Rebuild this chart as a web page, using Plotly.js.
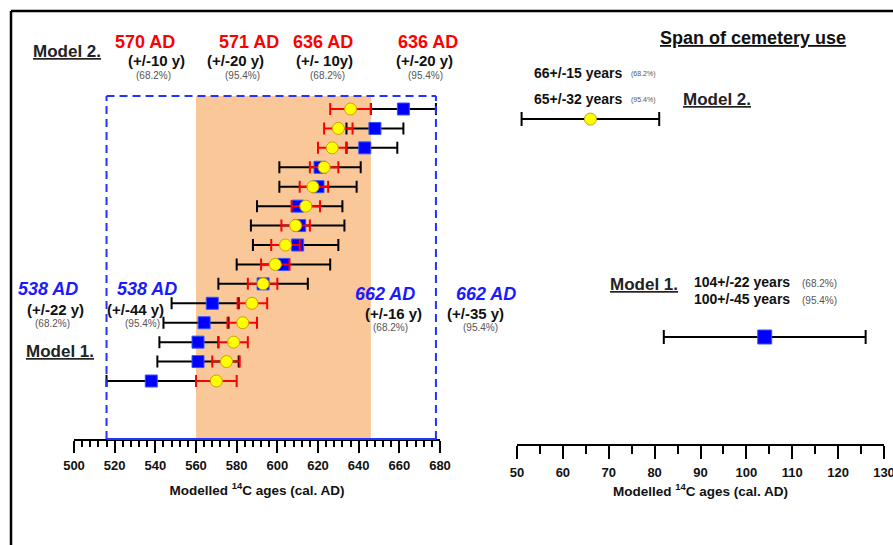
<!DOCTYPE html>
<html>
<head>
<meta charset="utf-8">
<script src="https://cdn.plot.ly/plotly-3.0.1.min.js"></script>
<style>html,body{margin:0;padding:0;background:#fff;}#chart{width:893px;height:545px;}</style>
</head>
<body>
<div id="chart"></div>
<script>
// ---- Data ----
const rows = [1, 2, 3, 4, 5, 6, 7, 8, 9, 10, 11, 12, 13, 14, 15];
// Model 1 (blue squares, black 68.2% bars)
const model1Median = [662, 648, 643, 621, 620, 610, 611, 610, 603, 593, 568, 564, 561, 561, 538];
const model1Low    = [646, 634, 634, 601, 601, 590, 587, 588, 580, 571, 548, 544, 542, 541, 516];
const model1High   = [678, 662, 659, 641, 639, 632, 633, 630, 626, 615, 581, 576, 571, 581, 560];
// Model 2 (yellow circles, red 68.2% bars)
const model2Median = [636, 630, 627, 623, 617.5, 614, 609, 604, 599, 593, 587.5, 583, 578.5, 575, 570];
const model2Low    = [626, 623, 620, 616, 611, 607, 602, 597, 592, 585.5, 580.5, 575.5, 571, 568, 560];
const model2High   = [646, 637, 634, 630, 625, 621, 616, 611, 606, 600, 595, 590, 585.5, 581.5, 580];
// Span of cemetery use (years)
const spanModels = ['Model 2.', 'Model 1.'];
const spanRows = [1, 2];
const spanMedian = [66, 104];
const spanErr = [15, 22];
// Highlighted ranges
const model2Range = [560, 646];   // orange band
const model1Range = [516, 678];   // dashed blue box

const W = 893, H = 545;
const px = x => x / W;
const py = y => 1 - y / H;
const FONT = 'Liberation Sans, Arial, sans-serif';

const diff = (a, b) => a.map((v, i) => v - b[i]);

const traces = [
  {
    type: 'scatter', mode: 'markers', x: model1Median, y: rows, xaxis: 'x', yaxis: 'y',
    marker: {symbol: 'square', size: 12, color: '#0000FF', line: {color: '#3355FF', width: 1}},
    error_x: {type: 'data', symmetric: false, array: diff(model1High, model1Median),
              arrayminus: diff(model1Median, model1Low), color: '#000000', thickness: 2, width: 6},
    hoverinfo: 'x'
  },
  {
    type: 'scatter', mode: 'markers', x: model2Median, y: rows, xaxis: 'x', yaxis: 'y',
    marker: {symbol: 'circle', size: 12, color: '#FFFF00', line: {color: '#C9A200', width: 1}},
    error_x: {type: 'data', symmetric: false, array: diff(model2High, model2Median),
              arrayminus: diff(model2Median, model2Low), color: '#FF0000', thickness: 2, width: 6},
    hoverinfo: 'x'
  },
  {
    type: 'scatter', mode: 'markers', x: [spanMedian[0]], y: [spanRows[0]], xaxis: 'x2', yaxis: 'y2',
    name: spanModels[0],
    marker: {symbol: 'circle', size: 12, color: '#FFFF00', line: {color: '#C9A200', width: 1}},
    error_x: {type: 'data', array: [spanErr[0]], color: '#000000', thickness: 2, width: 7},
    hoverinfo: 'x'
  },
  {
    type: 'scatter', mode: 'markers', x: [spanMedian[1]], y: [spanRows[1]], xaxis: 'x2', yaxis: 'y2',
    name: spanModels[1],
    marker: {symbol: 'square', size: 14, color: '#0000FF', line: {color: '#3355FF', width: 1}},
    error_x: {type: 'data', array: [spanErr[1]], color: '#000000', thickness: 2, width: 7},
    hoverinfo: 'x'
  }
];

const axisCommon = {
  showline: true, linecolor: '#000', linewidth: 2, showgrid: false, zeroline: false,
  ticks: 'outside', tickcolor: '#000', tickwidth: 2, fixedrange: true,
  ticklabeloverflow: 'allow',
  tickfont: {family: FONT, size: 13, color: '#111', weight: 'bold'}
};

const annots = [];
function txt(text, x, y, size, opts) {
  opts = opts || {};
  annots.push({
    text: text, xref: 'paper', yref: 'paper', x: px(x), y: py(y),
    xanchor: opts.xanchor || 'center', yanchor: 'middle', showarrow: false,
    font: {family: FONT, size: size, color: opts.color || '#111', weight: opts.weight || 'bold',
           style: opts.style || 'normal'}
  });
}
const RED = '#FF0000', BLUE = '#1A1AFF', GREY = '#555';
// Top labels (Model 2)
txt('<u>Model 2.</u>', 67, 51, 17, {color: '#222'});
txt('570 AD', 145, 42, 18, {color: RED});
txt('(+/-10 y)', 156, 61, 15);
txt('(68.2%)', 153, 75, 10, {color: GREY, weight: 'normal'});
txt('571 AD', 249, 42, 18, {color: RED});
txt('(+/-20 y)', 236, 61, 15);
txt('(95.4%)', 242, 75, 10, {color: GREY, weight: 'normal'});
txt('636 AD', 323, 42, 18, {color: RED});
txt('(+/- 10y)', 324, 61, 15);
txt('(68.2%)', 327, 75, 10, {color: GREY, weight: 'normal'});
txt('636 AD', 428, 42, 18, {color: RED});
txt('(+/-20 y)', 424, 61, 15);
txt('(95.4%)', 425, 75, 10, {color: GREY, weight: 'normal'});
// Lower labels (Model 1)
txt('538 AD', 48, 289, 18, {color: BLUE, style: 'italic'});
txt('(+/-22 y)', 55, 309, 15);
txt('(68.2%)', 52, 323, 10, {color: GREY, weight: 'normal'});
txt('<u>Model 1.</u>', 60, 351, 17, {color: '#222'});
txt('538 AD', 147, 289, 18, {color: BLUE, style: 'italic'});
txt('(+/-44 y)', 135, 309, 15);
txt('(95.4%)', 142, 323, 10, {color: GREY, weight: 'normal'});
txt('662 AD', 385, 294, 18, {color: BLUE, style: 'italic'});
txt('(+/-16 y)', 393, 313, 15);
txt('(68.2%)', 390, 327, 10, {color: GREY, weight: 'normal'});
txt('662 AD', 486, 294, 18, {color: BLUE, style: 'italic'});
txt('(+/-35 y)', 475, 313, 15);
txt('(95.4%)', 480, 327, 10, {color: GREY, weight: 'normal'});
// Right panel
txt('<u>Span of cemetery use</u>', 753, 38, 18, {color: '#111'});
txt('66+/-15 years', 532, 73, 14, {xanchor: 'left'});
txt('(68.2%)', 629, 74, 7, {xanchor: 'left', color: GREY, weight: 'normal'});
txt('65+/-32 years', 532, 99, 14, {xanchor: 'left'});
txt('(95.4%)', 629, 100, 7, {xanchor: 'left', color: GREY, weight: 'normal'});
txt('<u>Model 2.</u>', 717, 99, 17, {color: '#222'});
txt('<u>Model 1.</u>', 644, 284, 17, {color: '#222'});
txt('104+/-22 years', 692, 282, 14, {xanchor: 'left'});
txt('(68.2%)', 800, 283, 10, {xanchor: 'left', color: GREY, weight: 'normal'});
txt('100+/-45 years', 692, 299, 14, {xanchor: 'left'});
txt('(95.4%)', 800, 300, 10, {xanchor: 'left', color: GREY, weight: 'normal'});

const BOXBLUE = '#2233FF';
const shapes = [
  // orange band (Model 2 span)
  {type: 'rect', xref: 'x', yref: 'y domain', x0: model2Range[0], x1: model2Range[1], y0: 0, y1: 1,
   fillcolor: '#FAC898', line: {width: 0}, layer: 'below'},
  // dashed box (Model 1 span)
  {type: 'line', xref: 'x', yref: 'y domain', x0: model1Range[0], x1: model1Range[0], y0: 0, y1: 1,
   line: {color: BOXBLUE, width: 2, dash: '8px,5px'}, layer: 'above'},
  {type: 'line', xref: 'x', yref: 'y domain', x0: model1Range[1], x1: model1Range[1], y0: 0, y1: 1,
   line: {color: BOXBLUE, width: 2, dash: '8px,5px'}, layer: 'above'},
  {type: 'line', xref: 'x', yref: 'y domain', x0: model1Range[0], x1: model1Range[1], y0: 1, y1: 1,
   line: {color: BOXBLUE, width: 2, dash: '8px,5px'}, layer: 'above'},
  {type: 'line', xref: 'x', yref: 'y domain', x0: model1Range[0], x1: model1Range[1], y0: 0, y1: 0,
   line: {color: BOXBLUE, width: 2}, layer: 'above'},
  // outer frame (top and left)
  {type: 'line', xref: 'paper', yref: 'paper', x0: px(11), x1: 1.01, y0: py(11), y1: py(11),
   line: {color: '#000', width: 2.5}},
  {type: 'line', xref: 'paper', yref: 'paper', x0: px(11), x1: px(11), y0: py(11), y1: -0.01,
   line: {color: '#000', width: 2.5}}
];

const layout = {
  width: W, height: H, margin: {l: 0, r: 0, t: 0, b: 0},
  paper_bgcolor: '#fff', plot_bgcolor: 'rgba(0,0,0,0)', showlegend: false,
  xaxis: Object.assign({}, axisCommon, {
    domain: [px(74), px(440)], range: [500, 680], anchor: 'y', dtick: 20, tick0: 500, ticklen: 12,
    minor: {dtick: 4, ticklen: 6, tickwidth: 2, tickcolor: '#000', ticks: 'outside', showgrid: false},
    ticklabelstandoff: 1,
    title: {text: 'Modelled <sup>14</sup>C ages (cal. AD)', standoff: 14,
            font: {family: FONT, size: 13.5, color: '#111', weight: 'bold'}}
  }),
  yaxis: {domain: [py(439), py(96)], range: [17.985, 0.331], visible: false, fixedrange: true},
  xaxis2: Object.assign({}, axisCommon, {
    domain: [px(517), px(884)], range: [50, 130], anchor: 'y2', dtick: 10, tick0: 50, ticklen: 13,
    minor: {dtick: 5, ticklen: 8, tickwidth: 2, tickcolor: '#000', ticks: 'outside', showgrid: false},
    ticklabelstandoff: 2,
    title: {text: 'Modelled <sup>14</sup>C ages (cal. AD)', standoff: 8,
            font: {family: FONT, size: 13.5, color: '#111', weight: 'bold'}}
  }),
  yaxis2: {domain: [py(444), py(96)], range: [2.491, 0.894], visible: false, fixedrange: true, anchor: 'x2'},
  shapes: shapes,
  annotations: annots
};

Plotly.newPlot('chart', traces, layout, {displayModeBar: false, staticPlot: true});
</script>
</body>
</html>
